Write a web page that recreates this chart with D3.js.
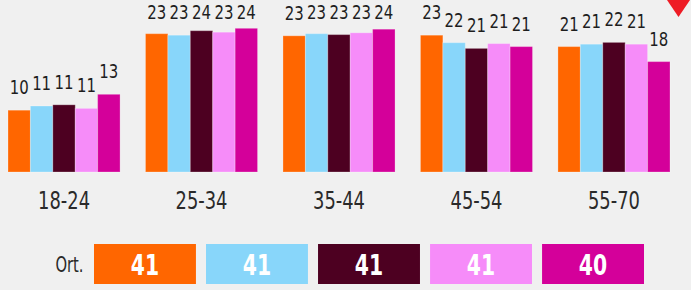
<!DOCTYPE html>
<html>
<head>
<meta charset="utf-8">
<script src="https://cdn.jsdelivr.net/npm/d3@7"></script>
<style>
  html, body { margin: 0; padding: 0; background: #f0f0f0; }
  svg { display: block; }
  text { font-family: "DejaVu Sans Condensed", "DejaVu Sans", sans-serif; }
</style>
</head>
<body>
<script>
var ageGroups = ['18-24', '25-34', '35-44', '45-54', '55-70'];
var seriesKeys = ['s1', 's2', 's3', 's4', 's5'];
var seriesColors = ['#ff6600', '#88d6fa', '#4d0021', '#f68cf9', '#d4009a'];

var s1 = [10.3, 23.05, 22.7, 22.8, 20.9];
var s2 = [11.0, 22.8, 23.05, 21.55, 21.3];
var s3 = [11.2, 23.55, 22.9, 20.6, 21.6];
var s4 = [10.6, 23.3, 23.2, 21.4, 21.3];
var s5 = [12.95, 23.95, 23.8, 20.9, 18.4];

var averages = [41, 41, 41, 41, 40];
var averageLabel = 'Ort.';

var w = 691,
    h = 290;

var svg = d3.select('body').append('svg')
  .attr('width', w)
  .attr('height', h);

var seriesValues = [s1, s2, s3, s4, s5];
var rows = [];
ageGroups.forEach(function(g, gi) {
  seriesKeys.forEach(function(k, si) {
    rows.push({ group: g, key: k, value: seriesValues[si][gi] });
  });
});

var x0 = d3.scaleBand()
  .domain(ageGroups)
  .range([8, 670])
  .paddingInner(0.185)
  .paddingOuter(0);

var x1 = d3.scaleBand()
  .domain(seriesKeys)
  .range([0, x0.bandwidth()]);

var y = d3.scaleLinear()
  .domain([0, 28])
  .range([172, 4]);

var color = d3.scaleOrdinal()
  .domain(seriesKeys)
  .range(seriesColors);

// the original type is a narrow face, so squeeze the condensed one a bit more
function place(x, y, sx) {
  return 'translate(' + x + ',' + y + ') scale(' + sx + ',1)';
}

var bars = svg.append('g');

bars.selectAll('.bar')
  .data(rows)
  .enter()
  .append('rect')
    .attr('class', 'bar')
    .attr('x', function(d) { return x0(d.group) + x1(d.key); })
    .attr('y', function(d) { return y(d.value); })
    .attr('width', x1.bandwidth())
    .attr('height', function(d) { return y(0) - y(d.value); })
    .attr('fill', function(d) { return color(d.key); })
    .attr('stroke', 'rgba(255,255,255,0.25)')
    .attr('stroke-width', 1);

bars.selectAll('.value')
  .data(rows)
  .enter()
  .append('text')
    .attr('class', 'value')
    .attr('transform', function(d) {
      // keep the tallest labels inside the top edge
      var ty = Math.max(y(d.value) - 16, 19);
      return place(x0(d.group) + x1(d.key) + x1.bandwidth() / 2, ty, 0.83);
    })
    .attr('text-anchor', 'middle')
    .attr('font-size', 20)
    .attr('fill', '#1e1e1e')
    .text(function(d) { return Math.round(d.value); });

// category labels
svg.append('g')
  .selectAll('.cat')
  .data(ageGroups)
  .enter()
  .append('text')
    .attr('transform', function(d) { return place(x0(d) + x0.bandwidth() / 2, 209, 0.78); })
    .attr('text-anchor', 'middle')
    .attr('font-size', 25.5)
    .attr('fill', '#2a2a2a')
    .text(function(d) { return d; });

// average boxes
var avgX = d3.scaleBand()
  .domain(seriesKeys)
  .range([94, 644])
  .paddingInner(0.09)
  .paddingOuter(0);

var avg = svg.append('g');

avg.append('text')
  .attr('transform', place(83.5, 272, 0.78))
  .attr('text-anchor', 'end')
  .attr('font-size', 21)
  .attr('fill', '#2a2a2a')
  .text(averageLabel);

var boxes = avg.selectAll('.avg')
  .data(seriesKeys.map(function(k, i) { return { key: k, value: averages[i] }; }))
  .enter()
  .append('g')
    .attr('transform', function(d) { return 'translate(' + avgX(d.key) + ',244)'; });

boxes.append('rect')
  .attr('width', avgX.bandwidth())
  .attr('height', 40)
  .attr('fill', function(d) { return color(d.key); });

boxes.append('text')
  .attr('transform', place(avgX.bandwidth() / 2, 30.5, 0.78))
  .attr('text-anchor', 'middle')
  .attr('font-size', 29)
  .attr('font-weight', 'bold')
  .attr('fill', '#fff')
  .text(function(d) { return d.value; });

// red marker top right
svg.append('path')
  .attr('d', 'M667,0 L690,0 L678.5,17 Z')
  .attr('fill', '#ee1c25');
</script>
</body>
</html>
